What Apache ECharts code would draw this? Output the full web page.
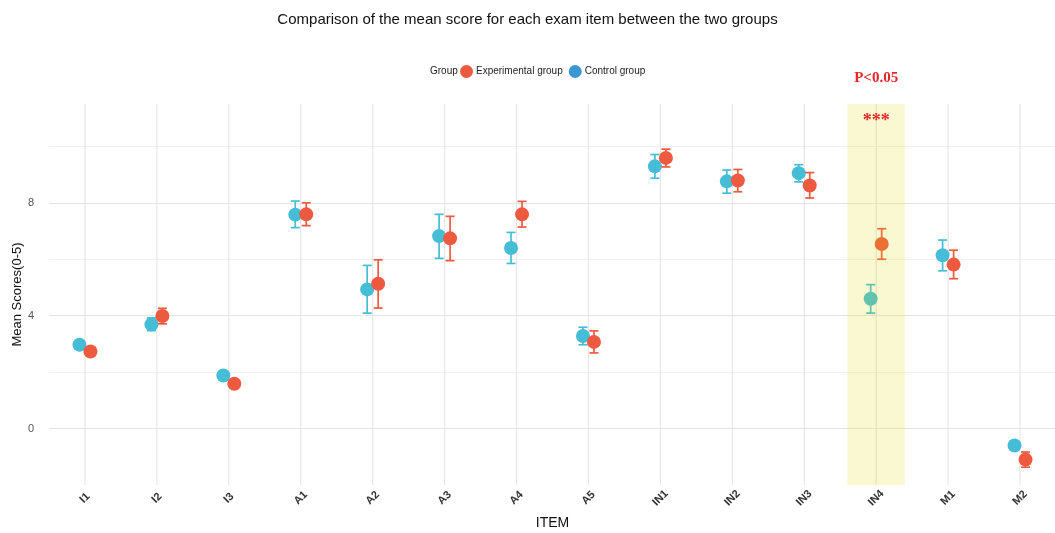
<!DOCTYPE html>
<html><head><meta charset="utf-8">
<script src="https://cdn.jsdelivr.net/npm/echarts@6/dist/echarts.min.js"></script>
<style>html,body{margin:0;padding:0;background:#fff}#c{width:1055px;height:533px}</style>
</head><body><div id="c"></div>
<script>
const categories = ['I1','I2','I3','A1','A2','A3','A4','A5','IN1','IN2','IN3','IN4','M1','M2'];
const controlMean = [2.97,3.69,1.88,7.58,4.93,6.82,6.40,3.28,9.29,8.76,9.05,4.60,6.14,-0.60];
const controlLow  = [2.87,3.47,1.80,7.12,4.09,6.03,5.85,2.97,8.87,8.34,8.74,4.09,5.59,-0.68];
const controlHigh = [3.07,3.92,1.96,8.06,5.78,7.59,6.95,3.59,9.71,9.16,9.35,5.10,6.68,-0.52];
const expMean = [2.73,3.99,1.59,7.59,5.13,6.74,7.59,3.07,9.59,8.79,8.61,6.54,5.81,-1.10];
const expLow  = [2.63,3.71,1.51,7.19,4.27,5.95,7.14,2.68,9.27,8.39,8.17,6.00,5.31,-1.37];
const expHigh = [2.83,4.26,1.67,8.00,5.98,7.52,8.05,3.46,9.90,9.18,9.07,7.08,6.32,-0.83];
const yTickLabels = [0,4,8];
const yMin = -2, yMax = 11.5;
const highlightItem = 'IN4';
const pText = 'P<0.05';
const starText = '***';
const starValue = 11.0;

const RED = '#EE5A40', CYAN = '#45BDD6', LEGEND_BLUE = '#3A97D4';

function groupData(mean, low, high) {
  return categories.map((c, i) => [c, mean[i], low[i], high[i]]);
}
function makeRender(offset, color) {
  return function (params, api) {
    const idx = api.value(0);
    const p = api.coord([idx, api.value(1)]);
    const lo = api.coord([idx, api.value(2)]);
    const hi = api.coord([idx, api.value(3)]);
    const x = p[0] + offset, cap = 4.5;
    const ls = { stroke: color, lineWidth: 1.7 };
    return { type: 'group', children: [
      { type: 'line', shape: { x1: x, y1: lo[1], x2: x, y2: hi[1] }, style: ls },
      { type: 'line', shape: { x1: x - cap, y1: lo[1], x2: x + cap, y2: lo[1] }, style: ls },
      { type: 'line', shape: { x1: x - cap, y1: hi[1], x2: x + cap, y2: hi[1] }, style: ls },
      { type: 'circle', shape: { cx: x, cy: p[1], r: 7 }, style: { fill: color } }
    ]};
  };
}

const chart = echarts.init(document.getElementById('c'), null, { renderer: 'canvas' });
chart.setOption({
  animation: false,
  backgroundColor: '#fff',
  textStyle: { fontFamily: 'Liberation Sans, Arial, sans-serif' },
  title: {
    text: 'Comparison of the mean score for each exam item between the two groups',
    left: 'center', top: 7,
    textStyle: { fontSize: 15, fontWeight: 'normal', color: '#111', fontFamily: 'Liberation Sans, Arial, sans-serif' }
  },
  graphic: [{
    type: 'text', left: 430, top: 66,
    style: { text: 'Group', fontSize: 10, fill: '#222', fontFamily: 'Liberation Sans, Arial, sans-serif' }
  }],
  legend: {
    left: 460, top: 65, itemGap: 6, itemWidth: 13, itemHeight: 13, padding: 0,
    textStyle: { fontSize: 10, color: '#222', padding: [0, 0, 0, -2] },
    data: [
      { name: 'Experimental group', icon: 'circle', itemStyle: { color: RED } },
      { name: 'Control group', icon: 'circle', itemStyle: { color: LEGEND_BLUE } }
    ]
  },
  grid: { left: 49, right: -1, top: 104, bottom: 48, outerBoundsMode: 'none', containLabel: false },
  xAxis: {
    type: 'category', data: categories, boundaryGap: true,
    name: 'ITEM', nameLocation: 'middle', nameGap: 31, nameMoveOverlap: false,
    nameTextStyle: { fontSize: 14, color: '#111' },
    axisLine: { show: false }, axisTick: { show: false }, splitLine: { show: false },
    axisLabel: { rotate: 45, align: 'center', verticalAlign: 'middle', margin: 13, fontSize: 11, color: '#333', fontWeight: 'bold' }
  },
  yAxis: {
    type: 'value', min: yMin, max: yMax, interval: 2,
    name: 'Mean Scores(0-5)', nameLocation: 'middle', nameGap: 25, nameRotate: 90, nameMoveOverlap: false,
    nameTextStyle: { fontSize: 13, color: '#111' },
    axisLine: { show: false }, axisTick: { show: false },
    axisLabel: { margin: 15, fontSize: 11, color: '#555',
      formatter: v => yTickLabels.includes(v) ? String(v) : '' },
    splitLine: { show: true, lineStyle: { width: 1.2,
      color: ['rgba(0,0,0,0)', '#E4E4E4', '#F0F0F0', '#E4E4E4', '#F0F0F0', '#E4E4E4', '#F0F0F0', 'rgba(0,0,0,0)', 'rgba(0,0,0,0)'] } }
  },
  series: [
    {
      type: 'custom', name: 'vgrid', silent: true, z: 1, legendHoverLink: false,
      data: categories.map(c => [c]),
      renderItem: (params, api) => {
        const t = api.coord([api.value(0), yMax]);
        const b = api.coord([api.value(0), yMin]);
        return { type: 'line', shape: { x1: t[0], y1: t[1], x2: b[0], y2: b[1] }, style: { stroke: '#E6E6E6', lineWidth: 1.2 } };
      }
    },
    {
      type: 'custom', name: 'Control group', z: 3,
      itemStyle: { color: CYAN },
      encode: { x: 0, y: [1, 2, 3] },
      data: groupData(controlMean, controlLow, controlHigh),
      renderItem: makeRender(-5.5, CYAN)
    },
    {
      type: 'custom', name: 'Experimental group', z: 3,
      itemStyle: { color: RED },
      encode: { x: 0, y: [1, 2, 3] },
      data: groupData(expMean, expLow, expHigh),
      renderItem: makeRender(5.5, RED)
    },
    {
      type: 'custom', name: 'highlight', silent: true, z: 5, clip: false,
      data: [[highlightItem]],
      renderItem: (params, api) => {
        const idx = api.value(0);
        const t = api.coord([idx, yMax]);
        const b = api.coord([idx, yMin]);
        const w = api.size([1, 0])[0] * 0.8;
        const s = api.coord([idx, starValue]);
        return { type: 'group', children: [
          { type: 'rect', shape: { x: t[0] - w / 2, y: t[1], width: w, height: b[1] - t[1] },
            style: { fill: 'rgba(222,214,0,0.18)' } },
          { type: 'text', x: t[0], y: s[1] + 3,
            style: { text: starText, fill: '#E8262A', fontSize: 18, fontWeight: 'bold',
              fontFamily: 'Liberation Serif, Times New Roman, serif', align: 'center', verticalAlign: 'middle' } },
          { type: 'text', x: t[0], y: t[1] - 26,
            style: { text: pText, fill: '#E8262A', fontSize: 15, fontWeight: 'bold',
              fontFamily: 'Liberation Serif, Times New Roman, serif', align: 'center', verticalAlign: 'middle' } }
        ]};
      }
    }
  ]
});
</script></body></html>
